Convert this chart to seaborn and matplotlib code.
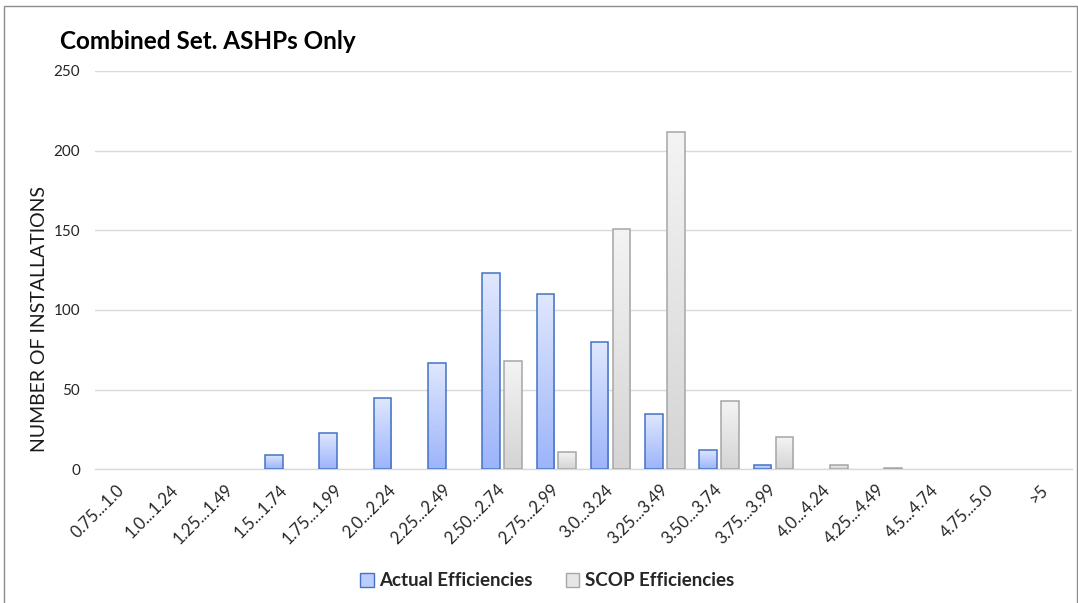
import numpy as np
import pandas as pd
import matplotlib
matplotlib.use("Agg")
import matplotlib.pyplot as plt
import seaborn as sns
from matplotlib.colors import LinearSegmentedColormap
from matplotlib.patches import Patch, Rectangle

# Efficiency bands (x categories)
ranges = ["0.75...1.0", "1.0...1.24", "1.25...1.49", "1.5...1.74", "1.75...1.99",
          "2.0...2.24", "2.25...2.49", "2.50...2.74", "2.75...2.99", "3.0...3.24",
          "3.25...3.49", "3.50...3.74", "3.75...3.99", "4.0...4.24", "4.25...4.49",
          "4.5...4.74", "4.75...5.0", ">5"]

# Number of installations per band
actual = [0, 0, 0, 9, 23, 45, 67, 123, 110, 80, 35, 12, 3, 0, 0, 0, 0, 0]
scop = [0, 0, 0, 0, 0, 0, 0, 68, 11, 151, 212, 43, 20, 3, 1, 0, 0, 0]

series_names = ["Actual Efficiencies", "SCOP Efficiencies"]
y_ticks = [0, 50, 100, 150, 200, 250]

title = "Combined Set. ASHPs Only"
y_label = "NUMBER OF INSTALLATIONS"

# Styling: gradient (top, bottom), edge colour per series
grad = {
    series_names[0]: ("#e0e8fe", "#9cb4fa"),
    series_names[1]: ("#f4f4f4", "#d4d4d4"),
}
edges = {series_names[0]: "#4472c4", series_names[1]: "#a6a6a6"}
mids = {series_names[0]: "#bccdfc", series_names[1]: "#e6e6e6"}

sns.set_theme(style="white")
plt.rcParams["font.family"] = ["Lato", "DejaVu Sans"]

df = pd.DataFrame({
    "range": ranges * 2,
    "count": actual + scop,
    "series": [series_names[0]] * len(ranges) + [series_names[1]] * len(ranges),
})

W, H = 1078, 603
fig = plt.figure(figsize=(W / 100, H / 100), dpi=100)
left, right, bottom, top = 94.75, 1072.15, 469.3, 71.0
ax = fig.add_axes([left / W, 1 - bottom / H, (right - left) / W, (bottom - top) / H])

palette = [mids[s] for s in series_names]
sns.barplot(data=df, x="range", y="count", hue="series", order=ranges,
            hue_order=series_names, palette=palette, saturation=1,
            width=0.81, gap=0.2, legend=False, ax=ax)

# Replace flat fills with vertical gradients clipped to each bar
grad_arr = np.linspace(0, 1, 256).reshape(-1, 1)
cmaps = {s: LinearSegmentedColormap.from_list(s, list(grad[s])) for s in series_names}
n = len(ranges)
for i, p in enumerate(list(ax.patches)):
    s = series_names[0] if i < n else series_names[1]
    h = p.get_height()
    if not np.isfinite(h) or h <= 0:
        p.set_visible(False)
        continue
    x0, w = p.get_x(), p.get_width()
    p.set_facecolor("none")
    p.set_edgecolor(edges[s])
    p.set_linewidth(1.1)
    p.set_zorder(3)
    im = ax.imshow(grad_arr, cmap=cmaps[s], extent=[x0, x0 + w, 0, h],
                   origin="upper", aspect="auto", zorder=2, interpolation="bilinear")
    im.set_clip_path(p)

ax.set_xlim(-0.5, len(ranges) - 0.5)
ax.set_ylim(0, 250)
ax.set_aspect("auto")

ax.set_axisbelow(True)
ax.yaxis.grid(True, color="#d9d9d9", linewidth=1.0)
ax.xaxis.grid(False)
for side in ["top", "right", "left"]:
    ax.spines[side].set_visible(False)
ax.spines["bottom"].set_color("#d9d9d9")
ax.spines["bottom"].set_linewidth(1.0)

ax.set_yticks(y_ticks)
ax.set_yticklabels([str(v) for v in y_ticks])
ax.tick_params(axis="y", length=0, pad=10.5, labelsize=11, labelcolor="#262626")
ax.tick_params(axis="x", length=0, pad=13, labelsize=12, labelcolor="#262626")
for lab in ax.get_xticklabels():
    lab.set_rotation(45)
    lab.set_ha("right")
    lab.set_va("center")
    lab.set_rotation_mode("anchor")
ax.set_xlabel("")
ax.set_ylabel("")

fig.text(60 / W, 1 - 49 / H, title, fontsize=17.5, fontweight="bold",
         color="black", ha="left", va="baseline")
fig.text(40 / W, 1 - 319 / H, y_label, fontsize=14, color="#1a1a1a",
         rotation=90, ha="center", va="center")

handles = [Patch(facecolor=mids[s], edgecolor=edges[s], linewidth=1.0) for s in series_names]
fig.legend(handles, series_names, loc="center", bbox_to_anchor=(547 / W, 1 - 581 / H),
           ncol=2, frameon=False, prop={"weight": "bold", "size": 13.5},
           handlelength=0.72, handleheight=0.72, handletextpad=0.3, columnspacing=1.75)

fig.add_artist(Rectangle((4 / W, -0.01), (1077 - 4) / W, 1 - 6 / H + 0.01,
                         transform=fig.transFigure, fill=False,
                         edgecolor="#8c8c8c", linewidth=1.0))

fig.savefig("out.png", dpi=100)
